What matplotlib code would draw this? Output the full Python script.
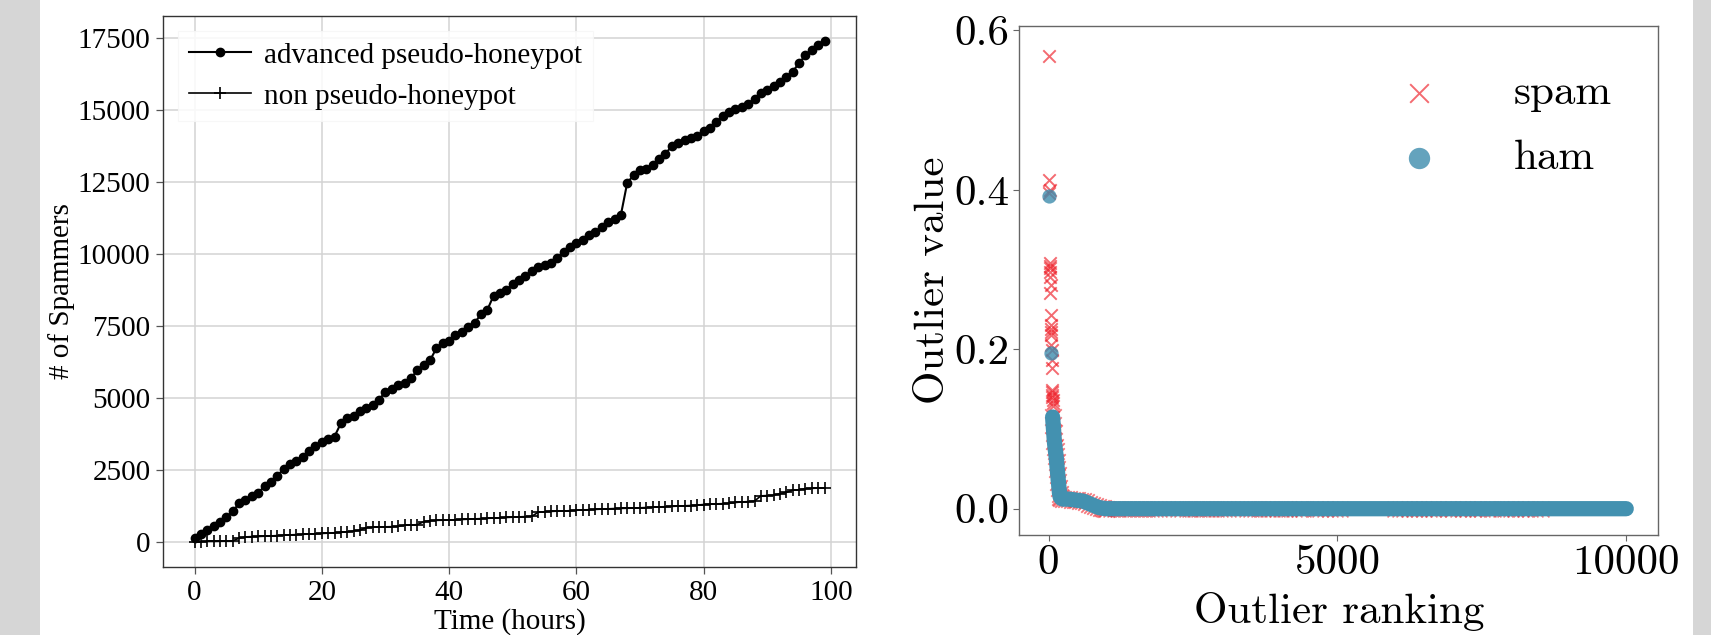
from __future__ import annotations

import matplotlib

matplotlib.use("Agg")
import matplotlib.pyplot as plt
from matplotlib.patches import Rectangle


# left panel: spammers collected per hour
HOURS = list(range(100))
ADVANCED = [
    150, 270, 420, 570, 700, 850, 1060, 1340, 1465, 1580,
    1690, 1950, 2070, 2300, 2530, 2700, 2820, 2940, 3170, 3340,
    3460, 3580, 3660, 4120, 4300, 4390, 4530, 4650, 4740, 4940,
    5210, 5325, 5440, 5535, 5675, 5965, 6140, 6300, 6720, 6910,
    6980, 7170, 7290, 7460, 7600, 7900, 8050, 8550, 8650, 8750,
    8960, 9100, 9240, 9410, 9550, 9630, 9690, 9870, 10080, 10250,
    10370, 10500, 10650, 10760, 10950, 11100, 11200, 11350, 12470, 12730,
    12900, 12960, 13100, 13290, 13480, 13740, 13850, 13950, 14020, 14090,
    14270, 14370, 14580, 14790, 14930, 15030, 15110, 15210, 15380, 15590,
    15700, 15840, 15980, 16150, 16330, 16620, 16900, 17070, 17250, 17390,
]
NON_HONEYPOT = [
    0, 10, 20, 20, 25, 30, 40, 130, 175, 185,
    190, 200, 210, 220, 235, 245, 255, 265, 275, 285,
    295, 305, 320, 335, 350, 380, 410, 500, 510, 520,
    525, 530, 540, 580, 590, 600, 700, 740, 750, 755,
    760, 770, 780, 790, 800, 810, 820, 830, 840, 850,
    860, 870, 880, 890, 1030, 1050, 1060, 1070, 1075, 1085,
    1100, 1110, 1120, 1130, 1140, 1150, 1160, 1165, 1170, 1175,
    1185, 1195, 1205, 1215, 1225, 1235, 1245, 1255, 1265, 1280,
    1300, 1310, 1320, 1330, 1340, 1370, 1390, 1400, 1420, 1600,
    1610, 1620, 1680, 1720, 1800, 1810, 1850, 1860, 1870, 1870,
]

# right panel: outlier value by ranking
SPAM_OUT_RANK = [10, 15, 20, 12, 18, 25, 22, 28, 30, 35, 32, 40, 38, 42, 45,
                 48, 50, 52, 55, 58, 60, 62, 65, 68, 70, 72, 75, 90, 100, 110]
SPAM_OUT_VALUE = [0.568, 0.413, 0.400, 0.396, 0.308, 0.305, 0.302, 0.297, 0.291,
                  0.281, 0.270, 0.243, 0.230, 0.226, 0.222, 0.218, 0.205, 0.199,
                  0.187, 0.176, 0.149, 0.146, 0.143, 0.140, 0.137, 0.133, 0.129,
                  0.092, 0.081, 0.075]
HAM_OUT_RANK = [10, 40]
HAM_OUT_VALUE = [0.392, 0.1955]
BAND_RANK = [70, 80, 90, 100, 110, 120, 130, 140, 150, 160, 170, 180, 190, 200,
             220, 250, 300, 350, 400, 450, 500, 550, 600, 650, 700, 750, 800,
             850, 900, 950, 1000, 10000]
BAND_VALUE = [0.115, 0.105, 0.095, 0.085, 0.078, 0.072, 0.066, 0.058, 0.05,
              0.042, 0.034, 0.026, 0.019, 0.015, 0.013, 0.012, 0.012, 0.012,
              0.0115, 0.011, 0.0105, 0.01, 0.0095, 0.008, 0.0065, 0.005, 0.0035,
              0.002, 0.001, 0.0005, 0.0, 0.0]
SPAM_TAIL_RANK = [
    960, 1010, 1080, 1150, 1210, 1290, 1350, 1420, 1500, 1560, 1640, 1700, 1780, 1850, 1920,
    2240, 2310, 2390, 2450, 2530, 2600, 2680, 2750, 2820, 2900, 2960, 3040, 3110,
    3430, 3500, 3580, 3650, 3720, 3800, 3870, 3950, 4020, 4100, 4170, 4250, 4330, 4400,
    4620, 4700, 4790, 4870, 4950, 5040,
    6000, 6080, 6160, 6240, 6330, 6410, 6500, 6580, 6660, 6750,
    6920, 7000, 7090, 7170, 7250, 7340, 7420, 7510, 7600, 7690,
    7830, 7910, 8000, 8080, 8170, 8250, 8340, 8420, 8520,
]

W, H = 1711, 635
SERIF = "Liberation Serif"
CM = "cmr10"
HAM_COLOR = "#3d8cad"
BAND_COLOR = "#4391b0"
SPAM_COLOR = "#ee1c25"


def draw_spammers(ax):
    ax.plot(HOURS, ADVANCED, color="black", marker="o", markersize=6,
            linewidth=1.5, label="advanced pseudo-honeypot")
    ax.plot(HOURS, NON_HONEYPOT, color="black", marker="+", markersize=8,
            markeredgewidth=1.2, linewidth=1.2, label="non pseudo-honeypot")
    ax.set_xticks([0, 20, 40, 60, 80, 100])
    ax.set_yticks(range(0, 17501, 2500))
    ax.grid(True, color="#d3d3d3", linewidth=1.1)
    ax.set_axisbelow(True)
    for spine in ax.spines.values():
        spine.set_color("#333333")
        spine.set_linewidth(1.0)
    ax.tick_params(length=5, width=0.9, color="#555555", labelsize=21, pad=4)
    for label in ax.get_xticklabels() + ax.get_yticklabels():
        label.set_fontfamily(SERIF)
    ax.set_xlabel("Time (hours)", fontsize=21, fontfamily=SERIF, labelpad=2)
    ax.set_ylabel("# of Spammers", fontsize=21, fontfamily=SERIF, labelpad=2)
    legend = ax.legend(loc="upper left", prop={"family": SERIF, "size": 21},
                       handlelength=2.1, handletextpad=0.45, framealpha=0.85,
                       edgecolor="#f6f6f6", fancybox=False)
    legend.get_frame().set_linewidth(0.8)


def draw_outliers(ax):
    ax.scatter(SPAM_OUT_RANK, SPAM_OUT_VALUE, marker="x", s=80, color=SPAM_COLOR,
               alpha=0.65, linewidths=1.4, label="spam", zorder=2)
    ax.scatter(BAND_RANK[:-1], BAND_VALUE[:-1], marker="x", s=140, color=SPAM_COLOR,
               alpha=0.6, linewidths=1.3, zorder=2)
    ax.scatter(SPAM_TAIL_RANK, [0.0] * len(SPAM_TAIL_RANK), marker="x", s=130,
               color=SPAM_COLOR, alpha=0.6, linewidths=1.2, zorder=2)
    ax.plot(BAND_RANK, BAND_VALUE, color=BAND_COLOR, linewidth=11,
            solid_capstyle="round", solid_joinstyle="round", zorder=3)
    ax.scatter(HAM_OUT_RANK, HAM_OUT_VALUE, marker="o", s=105, color=HAM_COLOR,
               alpha=0.8, linewidths=0, label="ham", zorder=4)

    ax.set_xlim(-505, 10550)
    ax.set_ylim(-0.033, 0.6056)
    ax.set_xticks([0, 5000, 10000])
    ax.set_yticks([0.0, 0.2, 0.4, 0.6])
    ax.set_yticklabels(["0.0", "0.2", "0.4", "0.6"])
    for spine in ax.spines.values():
        spine.set_color("#666666")
        spine.set_linewidth(1.0)
    ax.tick_params(length=4, width=0.8, color="#666666", labelsize=31, pad=3)
    for label in ax.get_xticklabels() + ax.get_yticklabels():
        label.set_fontfamily(CM)
    ax.set_xlabel("Outlier ranking", fontsize=31, fontfamily=CM, labelpad=7)
    ax.set_ylabel("Outlier value", fontsize=31, fontfamily=CM, labelpad=2)
    ax.legend(loc="upper left", bbox_to_anchor=(0.558, 0.948), frameon=False,
              prop={"family": CM, "size": 31}, handlelength=1.0,
              handletextpad=1.7, labelspacing=0.62, borderpad=0,
              markerscale=1.5, scatterpoints=1)


def main():
    fig = plt.figure(figsize=(W / 100, H / 100), dpi=100)
    fig.patches.append(Rectangle((0, 0), 40 / W, 1, transform=fig.transFigure,
                                 facecolor="#d6d6d6", edgecolor="none", zorder=-5))
    fig.patches.append(Rectangle((1693 / W, 0), 18 / W, 1, transform=fig.transFigure,
                                 facecolor="#d6d6d6", edgecolor="none", zorder=-5))

    left = fig.add_axes([163 / W, 1 - 567 / H, (856 - 163) / W, (567 - 16) / H])
    right = fig.add_axes([1019.4 / W, 1 - 535 / H, (1658 - 1019.4) / W, (535 - 26) / H])
    draw_spammers(left)
    draw_outliers(right)

    fig.savefig("out.png", dpi=100)
    plt.close(fig)


if __name__ == "__main__":
    main()
